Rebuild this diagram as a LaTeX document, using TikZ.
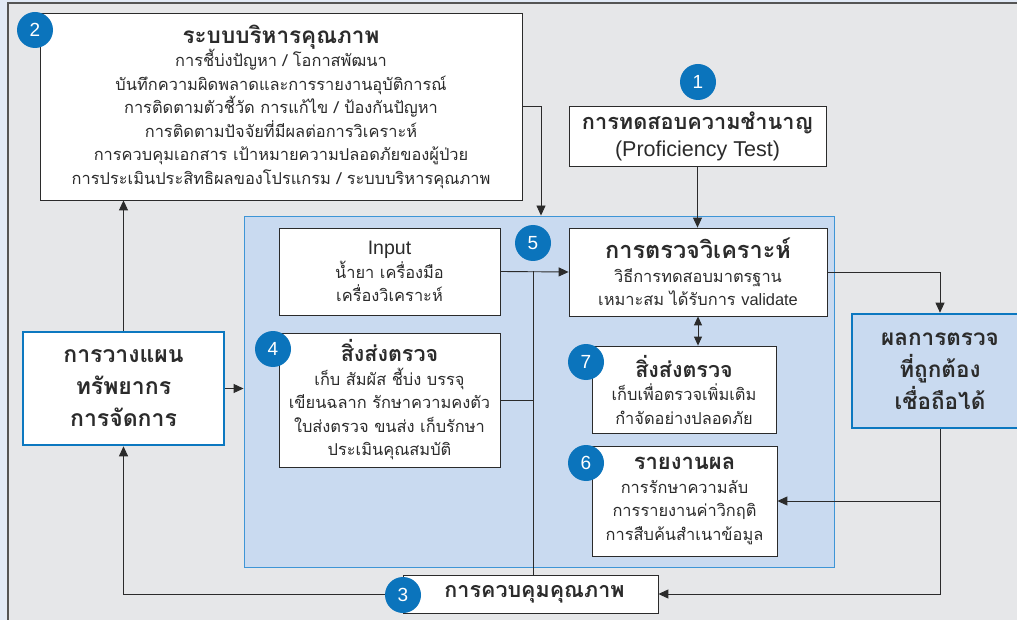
\documentclass[tikz,border=0pt]{standalone}
\usepackage{fontspec}
\setmainfont{Liberation Sans}
\newfontfamily\thf[Script=Thai]{Loma}
\usetikzlibrary{arrows.meta}
\definecolor{bggrey}{HTML}{E6E7E9}
\definecolor{strip}{HTML}{E2EAF6}
\definecolor{regfill}{HTML}{C9DAF0}
\definecolor{regline}{HTML}{3E95D6}
\definecolor{badgeblue}{HTML}{0B74BC}
\definecolor{thickblue}{HTML}{0C78C0}
\definecolor{ink}{HTML}{2B2B2B}
\begin{document}
\begin{tikzpicture}[x=1pt,y=-1pt,
  box/.style={draw=ink,line width=0.8pt,fill=white,inner sep=0pt,align=center,text=ink,
    font=\thf\fontsize{16.4}{23.5}\selectfont},
  bigbox/.style={draw=thickblue,line width=2.6pt,inner sep=0pt,align=center,text=ink,
    font=\thf\bfseries\fontsize{23}{32}\selectfont},
  badge/.style={circle,fill=badgeblue,text=white,inner sep=0pt,minimum size=36pt,
    font=\rmfamily\fontsize{19}{19}\selectfont},
  conn/.style={draw=ink,line width=0.9pt},
  arr/.style={conn,-{Triangle[length=10pt,width=9pt]}},
  dbl/.style={conn,{Triangle[length=9pt,width=8pt]}-{Triangle[length=9pt,width=8pt]}}]
\useasboundingbox (0,0) rectangle (1017,620);
% background
\fill[strip] (0,0) rectangle (1017,620);
\fill[bggrey] (8,3) rectangle (1017,620);
\draw[ink!80,line width=1.2pt] (8,620) -- (8,3) -- (1017,3);
% blue region
\node[draw=regline,fill=regfill,line width=0.9pt,minimum width=590pt,minimum height=351pt,inner sep=0pt] (region) at (539,391.5) {};
% boxes
\node[box,minimum width=482pt,minimum height=187pt] (box2) at (281,106.5)
  {{\fontsize{22.5}{25}\selectfont\bfseries ระบบบริหารคุณภาพ}\\
   การชี้บ่งปัญหา / โอกาสพัฒนา\\
   บันทึกความผิดพลาดและการรายงานอุบัติการณ์\\
   การติดตามตัวชี้วัด การแก้ไข / ป้องกันปัญหา\\
   การติดตามปัจจัยที่มีผลต่อการวิเคราะห์\\
   การควบคุมเอกสาร เป้าหมายความปลอดภัยของผู้ป่วย\\
   การประเมินประสิทธิผลของโปรแกรม / ระบบบริหารคุณภาพ};
\node[box,minimum width=257pt,minimum height=60pt,font=\thf\fontsize{21.7}{27}\selectfont] (box1) at (697.5,136)
  {{\bfseries การทดสอบความชำนาญ}\\{\rmfamily\fontsize{21.5}{27}\selectfont (Proficiency Test)}};
\node[box,minimum width=221pt,minimum height=87pt] (input) at (389.5,271.5)
  {{\rmfamily\fontsize{19.5}{24}\selectfont Input}\\น้ำยา เครื่องมือ\\เครื่องวิเคราะห์};
\node[box,minimum width=258pt,minimum height=88pt] (box5) at (698,272)
  {{\fontsize{23.5}{27}\selectfont\bfseries การตรวจวิเคราะห์}\\วิธีการทดสอบมาตรฐาน\\เหมาะสม ได้รับการ {\rmfamily validate}};
\node[box,minimum width=221pt,minimum height=134pt] (box4) at (389.5,400)
  {{\fontsize{21.5}{26}\selectfont\bfseries สิ่งส่งตรวจ}\\เก็บ สัมผัส ชี้บ่ง บรรจุ\\เขียนฉลาก รักษาความคงตัว\\ใบส่งตรวจ ขนส่ง เก็บรักษา\\ประเมินคุณสมบัติ};
\node[box,minimum width=184pt,minimum height=87pt] (box7) at (684,389.5)
  {{\fontsize{21.5}{26}\selectfont\bfseries สิ่งส่งตรวจ}\\เก็บเพื่อตรวจเพิ่มเติม\\กำจัดอย่างปลอดภัย};
\node[box,minimum width=185pt,minimum height=110pt] (box6) at (684.5,501)
  {{\fontsize{22}{26}\selectfont\bfseries รายงานผล}\\การรักษาความลับ\\การรายงานค่าวิกฤติ\\การสืบค้นสำเนาข้อมูล};
\node[bigbox,fill=white,minimum width=201pt,minimum height=113pt] (left) at (123.5,388.5)
  {การวางแผน\\ทรัพยากร\\การจัดการ};
\node[bigbox,fill=regfill,minimum width=176pt,minimum height=114pt,font=\thf\bfseries\fontsize{22.5}{32}\selectfont] (right) at (940,371)
  {ผลการตรวจ\\ที่ถูกต้อง\\เชื่อถือได้};
\node[box,minimum width=255pt,minimum height=38pt,font=\thf\bfseries\fontsize{21.5}{24}\selectfont] (box3) at (530.5,594)
  {\hspace*{8pt}การควบคุมคุณภาพ};
% connectors
\coordinate (c1) at (541,0);
\coordinate (j1) at (533,0);
\draw[arr] (box2.east) -| (c1 |- region.north);
\draw[arr] (box1.south) -- (box1.south |- box5.north);
\draw[arr] (input.east) -- (box5.west);
\draw[conn] (j1 |- input.east) -- (j1 |- box3.north);
\draw[conn] (box4.east) -- (box4.east -| j1);
\draw[dbl] (box5.south) -- (box5.south |- box7.north);
\draw[arr] (box5.east) -| (right.north);
\draw[arr] (right.south) |- (box3.east);
\draw[arr] (box6.east -| right.south) -- (box6.east);
\draw[arr] (box3.west) -| (left.south);
\draw[arr] (left.north) -- (left.north |- box2.south);
\draw[arr] (left.east) -- (left.east -| region.west);
% badges
\node[badge] (b2) at (35,30) {2};
\node[badge] (b1) at (698,82) {1};
\node[badge] (b5) at (533,243) {5};
\node[badge] (b4) at (273,349) {4};
\node[badge] (b7) at (586,362) {7};
\node[badge] (b6) at (586,463) {6};
\node[badge] (b3) at (403,595) {3};
\end{tikzpicture}
\end{document}
